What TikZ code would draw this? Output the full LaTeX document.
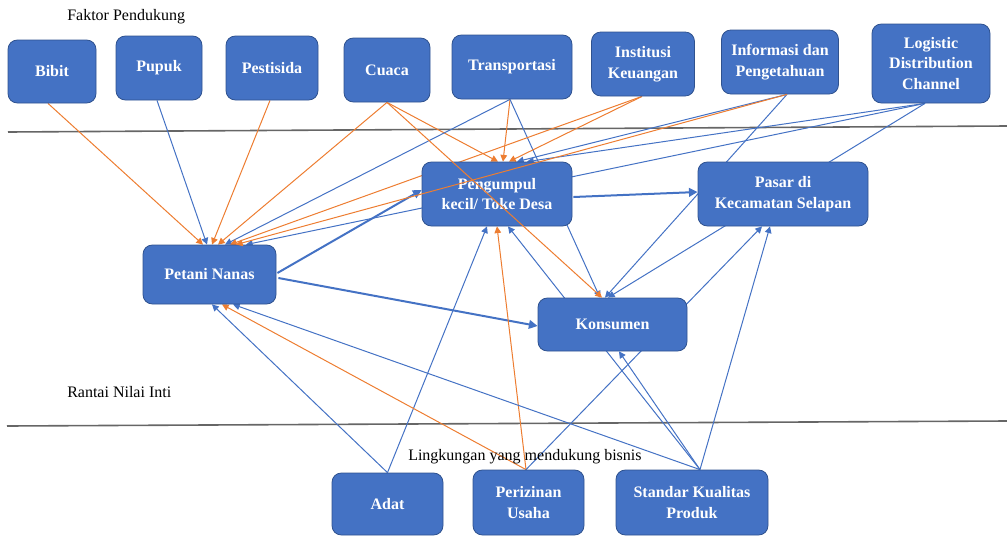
\documentclass[tikz,border=0pt]{standalone}
\usepackage{fontspec}
\setmainfont{Liberation Serif}
\usetikzlibrary{arrows.meta,calc,backgrounds}
\definecolor{boxblue}{HTML}{4472C4}
\definecolor{boxedge}{HTML}{2F528F}
\definecolor{linkorange}{HTML}{ED7D31}
\definecolor{linkblue}{HTML}{4472C4}
\tikzset{
  box/.style={draw=boxedge, line width=0.6pt, fill=boxblue, rounded corners=7pt,
    text=white, font=\bfseries\fontsize{12}{15.5}\selectfont, align=center, inner sep=0pt},
  bl/.style={draw=linkblue, line width=0.75pt, -{Triangle[length=5pt,width=5pt]}},
  ol/.style={draw=linkorange, line width=0.75pt, -{Triangle[length=5pt,width=5pt]}},
  tb/.style={draw=linkblue, line width=1.5pt, -{Triangle[length=6.5pt,width=6.5pt]}},
  rule/.style={draw=black!60, line width=1.2pt},
  lbl/.style={anchor=base west, inner sep=0pt, font=\fontsize{12}{14}\selectfont}
}
\begin{document}
\begin{tikzpicture}[x=0.75pt,y=-0.75pt]
\useasboundingbox (0,0) rectangle (1007,536);
\node[lbl] (faktor) at (67,20) {Faktor Pendukung};
\node[lbl] (rantai) at (67,397) {Rantai Nilai Inti};
\node[lbl] (lingkungan) at (408,460) {Lingkungan yang mendukung bisnis};
\node[box, minimum width=66pt, minimum height=47.25pt] (bibit) at (52,71.5) {Bibit};
\node[box, minimum width=64.5pt, minimum height=48pt] (pupuk) at (159,68) {Pupuk};
\node[box, minimum width=69pt, minimum height=48pt] (pestisida) at (272,68) {Pestisida};
\node[box, minimum width=64.5pt, minimum height=48pt] (cuaca) at (387,70) {Cuaca};
\node[box, minimum width=90pt, minimum height=48pt] (transport) at (512,67) {Transportasi};
\node[box, minimum width=77.25pt, minimum height=48pt] (institusi) at (643,64) {Institusi\\Keuangan};
\node[box, minimum width=87.75pt, minimum height=48pt] (informasi) at (780,62) {Informasi dan\\Pengetahuan};
\node[box, minimum width=88.5pt, minimum height=59.25pt] (logistic) at (931,63.5) {Logistic\\Distribution\\Channel};
\node[box, minimum width=112.5pt, minimum height=48pt] (pengumpul) at (497,194) {Pengumpul\\kecil/ Toke Desa};
\node[box, minimum width=127.5pt, minimum height=48pt] (pasar) at (783,194) {Pasar di\\Kecamatan Selapan};
\node[box, minimum width=99.75pt, minimum height=44.25pt] (petani) at (209.5,274.5) {Petani Nanas};
\node[box, minimum width=111.75pt, minimum height=39.75pt] (konsumen) at (612.5,324.5) {Konsumen};
\node[box, minimum width=83.25pt, minimum height=46.5pt] (adat) at (387.5,504) {Adat};
\node[box, minimum width=83.25pt, minimum height=48.75pt] (perizinan) at (528.5,502.5) {Perizinan\\Usaha};
\node[box, minimum width=114pt, minimum height=48.75pt] (standar) at (692,502.5) {Standar Kualitas\\Produk};
\begin{pgfonlayer}{background}
\draw[rule] (8,132) -- (1007,126);
\draw[rule] (7,426) -- (1007,421);
\draw[ol] ($(bibit.south)+(-4,0)$) -- ($(petani.north)+(-6.5,0)$);
\draw[bl] ($(pupuk.south)+(-2,0)$) -- ($(petani.north)+(-2.5,0)$);
\draw[ol] ($(pestisida.south)+(-2,0)$) -- ($(petani.north)+(2.5,0)$);
\draw[ol] (cuaca.south) -- ($(petani.north)+(8.5,0)$);
\draw[ol] (cuaca.south) -- ($(pengumpul.north)+(1,0)$);
\draw[bl] ($(transport.south)+(-2,0)$) -- ($(petani.north)+(15.5,0)$);
\draw[ol] ($(transport.south)+(-2,0)$) -- ($(pengumpul.north)+(6,0)$);
\draw[bl] ($(transport.south)+(-2,0)$) -- ($(konsumen.north)+(-12.5,0)$);
\draw[ol] ($(institusi.south)+(-1,0)$) -- ($(pengumpul.north)+(12,0)$);
\draw[ol] ($(institusi.south)+(-1,0)$) -- ($(petani.north)+(20.5,0)$);
\draw[bl] ($(informasi.south)+(7,0)$) -- ($(pengumpul.north)+(20,0)$);
\draw[bl] ($(informasi.south)+(7,0)$) -- ($(konsumen.north)+(-7.5,0)$);
\draw[bl] ($(logistic.south)+(-6,0)$) -- ($(pengumpul.north)+(30,0)$);
\draw[bl] ($(logistic.south)+(-6,0)$) -- ($(petani.north)+(36.5,0)$);
\draw[bl] ($(logistic.south)+(-6,0)$) -- ($(konsumen.north)+(-4.5,0)$);
\draw[tb] ($(petani.east)+(1,-1.5)$) -- ($(pengumpul.west)+(0,-4)$);
\draw[tb] ($(petani.east)+(2,3.5)$) -- ($(konsumen.west)+(0,1.5)$);
\draw[tb] ($(pengumpul.east)+(1,3)$) -- ($(pasar.west)+(0,-2)$);
\draw[bl] (adat.north) -- ($(petani.south)+(2.5,0)$);
\draw[bl] (adat.north) -- ($(pengumpul.south)+(-10,0)$);
\draw[ol] ($(perizinan.north)+(-2.5,0)$) -- ($(petani.south)+(12.5,0)$);
\draw[ol] ($(perizinan.north)+(-2.5,0)$) -- (pengumpul.south);
\draw[bl] ($(perizinan.north)+(-2.5,0)$) -- ($(pasar.south)+(-21,0)$);
\draw[bl] ($(standar.north)+(8,0)$) -- ($(petani.south)+(23.5,0)$);
\draw[bl] ($(standar.north)+(8,0)$) -- ($(pengumpul.south)+(11,0)$);
\draw[bl] ($(standar.north)+(8,0)$) -- ($(konsumen.south)+(6.5,0)$);
\draw[bl] ($(standar.north)+(8,0)$) -- ($(pasar.south)+(-13,0)$);
\end{pgfonlayer}
\draw[ol] ($(informasi.south)+(7,0)$) -- ($(petani.north)+(26.5,0)$);
\draw[ol] (cuaca.south) -- ($(konsumen.north)+(-10.5,0)$);
\end{tikzpicture}
\end{document}
